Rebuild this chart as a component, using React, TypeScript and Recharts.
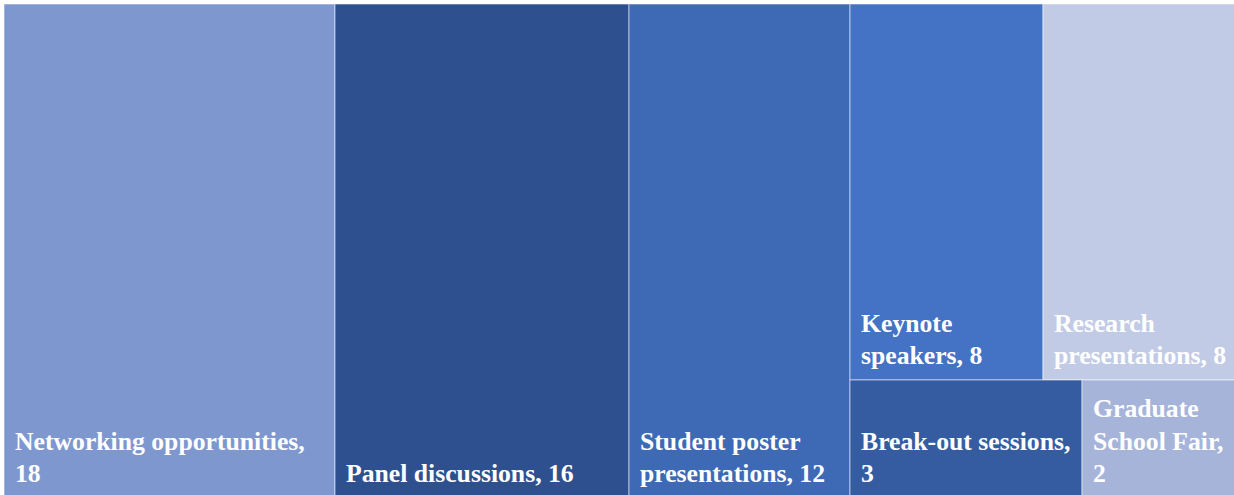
import React from "react";
import { Treemap } from "recharts";

// Survey responses: most valuable parts of the conference
const categories = [
  "Networking opportunities",
  "Panel discussions",
  "Student poster presentations",
  "Keynote speakers",
  "Research presentations",
  "Break-out sessions",
  "Graduate School Fair",
];
const counts = [18, 16, 12, 8, 8, 3, 2];

// Number of words on each wrapped label line ("<name>, <count>")
const labelBreaks = [[2, 1], [3], [2, 2], [1, 2], [1, 2], [2, 1], [1, 2, 1]];

const fills: Record<string, string> = {
  "Networking opportunities": "#7F97CF",
  "Panel discussions": "#2F508E",
  "Student poster presentations": "#3E69B4",
  "Keynote speakers": "#4472C4",
  "Research presentations": "#C1CBE5",
  "Break-out sessions": "#355CA0",
  "Graduate School Fair": "#A6B4DA",
};

const leaf = (i: number) => ({ name: categories[i], size: counts[i], idx: i });

// The three largest categories take full-height columns; the rest share the last column
const treeData = [
  leaf(0),
  leaf(1),
  leaf(2),
  {
    name: "smaller",
    children: [
      { name: "upper", children: [leaf(3), leaf(4)] },
      { name: "lower", children: [leaf(5), leaf(6)] },
    ],
  },
];

const FONT = "'Liberation Serif', 'Times New Roman', serif";
const FONT_SIZE = 25.7;
const LINE_H = 32.5;

function wrapLabel(i: number): string[] {
  const words = `${categories[i]}, ${counts[i]}`.split(" ");
  const lines: string[] = [];
  let k = 0;
  for (const n of labelBreaks[i]) {
    lines.push(words.slice(k, k + n).join(" "));
    k += n;
  }
  return lines;
}

function Cell(props: any) {
  const { x, y, width, height, name, idx } = props;
  const fill = fills[name];
  if (!fill || idx === undefined) return <g />;
  const lines = wrapLabel(idx);
  const baseY = y + height - 16;
  return (
    <g>
      <rect
        x={x}
        y={y}
        width={width}
        height={height}
        fill={fill}
        stroke="rgba(255,255,255,0.55)"
        strokeWidth={1}
      />
      {lines.map((ln, j) => (
        <text
          key={j}
          x={x + 11}
          y={baseY - (lines.length - 1 - j) * LINE_H}
          fill="#FFFFFF"
          fontFamily={FONT}
          fontWeight="bold"
          fontSize={FONT_SIZE}
        >
          {ln}
        </text>
      ))}
    </g>
  );
}

export default function App() {
  return (
    <div style={{ position: "absolute", left: 4, top: 4, width: 1232, height: 494 }}>
      <Treemap
        width={1232}
        height={494}
        data={treeData}
        dataKey="size"
        aspectRatio={1}
        isAnimationActive={false}
        content={(p: any) => <Cell {...p} />}
      />
    </div>
  );
}
